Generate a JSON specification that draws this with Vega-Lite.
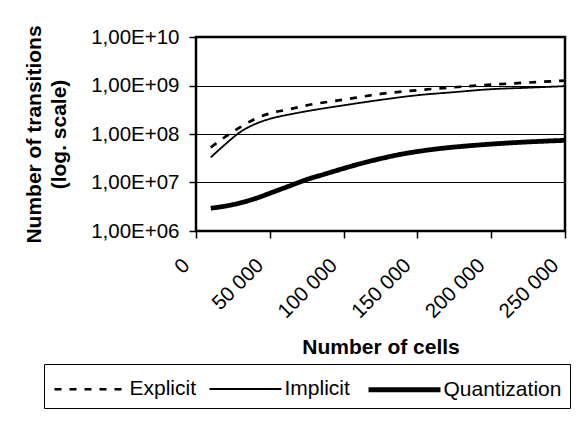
{
  "$schema": "https://vega.github.io/schema/vega-lite/v6.json",
  "width": 369,
  "height": 194,
  "autosize": {"type": "none"},
  "padding": {"left": 196, "top": 37, "right": 16, "bottom": 194},
  "background": "white",
  "config": {
    "font": "Liberation Sans",
    "view": {"stroke": "black", "strokeWidth": 2.5},
    "axis": {
      "domain": false,
      "labelColor": "black",
      "titleColor": "black",
      "tickColor": "black",
      "gridColor": "black",
      "gridOpacity": 1,
      "gridWidth": 1,
      "tickWidth": 1.5,
      "tickSize": 7,
      "labelFontSize": 20.5,
      "titleFontSize": 21,
      "titleFontWeight": "bold",
      "labelFont": "Liberation Sans",
      "titleFont": "Liberation Sans"
    },
    "legend": {"labelFont": "Liberation Sans"}
  },
  "data": {
    "values": [
      {"series": "Explicit", "cells": 10000, "transitions": 53000000},
      {"series": "Explicit", "cells": 20000, "transitions": 88000000},
      {"series": "Explicit", "cells": 30000, "transitions": 138000000},
      {"series": "Explicit", "cells": 40000, "transitions": 205000000},
      {"series": "Explicit", "cells": 50000, "transitions": 265000000},
      {"series": "Explicit", "cells": 62500, "transitions": 320000000},
      {"series": "Explicit", "cells": 75000, "transitions": 390000000},
      {"series": "Explicit", "cells": 100000, "transitions": 510000000},
      {"series": "Explicit", "cells": 125000, "transitions": 670000000},
      {"series": "Explicit", "cells": 150000, "transitions": 800000000},
      {"series": "Explicit", "cells": 175000, "transitions": 920000000},
      {"series": "Explicit", "cells": 200000, "transitions": 1040000000},
      {"series": "Explicit", "cells": 225000, "transitions": 1150000000},
      {"series": "Explicit", "cells": 250000, "transitions": 1260000000},
      {"series": "Implicit", "cells": 10000, "transitions": 33000000},
      {"series": "Implicit", "cells": 20000, "transitions": 62000000},
      {"series": "Implicit", "cells": 30000, "transitions": 110000000},
      {"series": "Implicit", "cells": 40000, "transitions": 160000000},
      {"series": "Implicit", "cells": 50000, "transitions": 205000000},
      {"series": "Implicit", "cells": 62500, "transitions": 250000000},
      {"series": "Implicit", "cells": 75000, "transitions": 295000000},
      {"series": "Implicit", "cells": 100000, "transitions": 390000000},
      {"series": "Implicit", "cells": 125000, "transitions": 505000000},
      {"series": "Implicit", "cells": 150000, "transitions": 630000000},
      {"series": "Implicit", "cells": 175000, "transitions": 730000000},
      {"series": "Implicit", "cells": 200000, "transitions": 840000000},
      {"series": "Implicit", "cells": 225000, "transitions": 900000000},
      {"series": "Implicit", "cells": 250000, "transitions": 970000000},
      {"series": "Quantization", "cells": 10000, "transitions": 2950000},
      {"series": "Quantization", "cells": 25000, "transitions": 3500000},
      {"series": "Quantization", "cells": 40000, "transitions": 4650000},
      {"series": "Quantization", "cells": 50000, "transitions": 6000000},
      {"series": "Quantization", "cells": 62500, "transitions": 8300000},
      {"series": "Quantization", "cells": 75000, "transitions": 11500000},
      {"series": "Quantization", "cells": 87500, "transitions": 15000000},
      {"series": "Quantization", "cells": 100000, "transitions": 19500000},
      {"series": "Quantization", "cells": 112500, "transitions": 25000000},
      {"series": "Quantization", "cells": 125000, "transitions": 31000000},
      {"series": "Quantization", "cells": 137500, "transitions": 37500000},
      {"series": "Quantization", "cells": 150000, "transitions": 43500000},
      {"series": "Quantization", "cells": 162500, "transitions": 49000000},
      {"series": "Quantization", "cells": 187500, "transitions": 58000000},
      {"series": "Quantization", "cells": 212500, "transitions": 65500000},
      {"series": "Quantization", "cells": 250000, "transitions": 74000000}
    ]
  },
  "mark": {"type": "line", "interpolate": "monotone", "color": "black"},
  "encoding": {
    "x": {
      "field": "cells",
      "type": "quantitative",
      "scale": {"domain": [0, 250000], "nice": false},
      "axis": {
        "values": [0, 50000, 100000, 150000, 200000, 250000],
        "labelExpr": "replace(format(datum.value, ','), ',', ' ')",
        "labelAngle": -45,
        "labelAlign": "right",
        "labelBaseline": "middle",
        "labelPadding": 24,
        "labelOffset": -10,
        "labelFlush": false,
        "labelOverlap": false,
        "grid": false,
        "title": "Number of cells",
        "titleY": 122,
        "titleBaseline": "alphabetic"
      }
    },
    "y": {
      "field": "transitions",
      "type": "quantitative",
      "scale": {"type": "log", "domain": [1000000, 10000000000], "nice": false},
      "axis": {
        "values": [1000000, 10000000, 100000000, 1000000000, 10000000000],
        "labelExpr": "'1,00E+' + (datum.value < 1e10 ? '0' : '') + round(log(datum.value) / LN10)",
        "labelPadding": 10,
        "title": ["Number of transitions", "(log. scale)"],
        "titleX": -162,
        "titleY": 97,
        "titleAngle": -90,
        "titleAlign": "center",
        "titleBaseline": "middle",
        "titleLineHeight": 25
      }
    },
    "strokeDash": {
      "field": "series",
      "type": "nominal",
      "scale": {"domain": ["Explicit", "Implicit", "Quantization"], "range": [[7, 8], [1, 0], [1, 0]]},
      "legend": {
        "title": null,
        "orient": "none",
        "direction": "horizontal",
        "columns": 3,
        "legendX": -152,
        "legendY": 327,
        "strokeColor": "black",
        "fillColor": "white",
        "padding": 8,
        "labelFontSize": 21,
        "labelColor": "black",
        "labelOffset": 42.5,
        "columnPadding": 8,
        "symbolType": "M-1,0H3.8",
        "symbolSize": 900,
        "symbolStrokeColor": "black",
        "encode": {
          "symbols": {
            "update": {
              "strokeWidth": {"signal": "datum.value == 'Quantization' ? 4.8 : (datum.value == 'Explicit' ? 2.7 : 1.8)"}
            }
          }
        }
      }
    },
    "strokeWidth": {
      "field": "series",
      "type": "nominal",
      "scale": {"type": "ordinal", "domain": ["Explicit", "Implicit", "Quantization"], "range": [2.7, 1.8, 4.8]},
      "legend": null
    }
  }
}
